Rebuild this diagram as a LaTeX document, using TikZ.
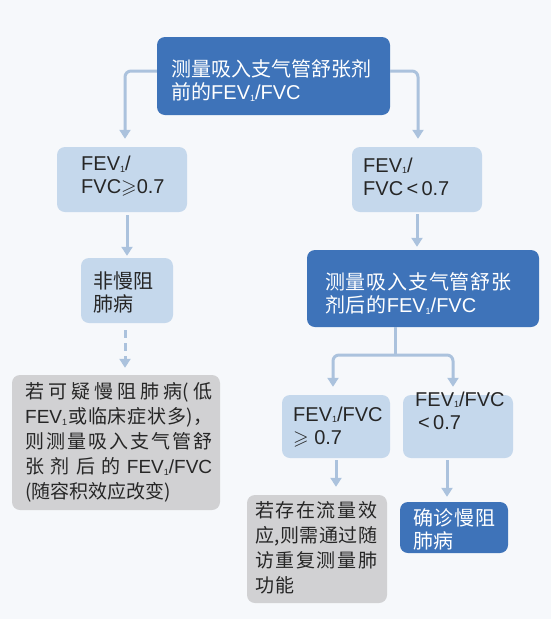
\documentclass[tikz,border=0pt]{standalone}
\usepackage{amssymb}
\usepackage{fontspec}
\setmainfont{Liberation Sans}
\newfontfamily\cjk{Noto Sans CJK SC}
\newfontfamily\cjkw[LetterSpace=4]{Noto Sans CJK SC}
\usetikzlibrary{arrows.meta}
\definecolor{bgc}{HTML}{F6F8FB}
\definecolor{darkb}{HTML}{3E73B9}
\definecolor{lightb}{HTML}{C5D8EC}
\definecolor{greyb}{HTML}{D1D1D3}
\definecolor{arrc}{HTML}{ABC2DD}
\definecolor{txt}{HTML}{262626}
\newcommand\one{\raisebox{-1.5pt}{\fontsize{9}{9}\selectfont 1}}
\newcommand\spreadline[2]{\makebox[#1][s]{#2}}
\tikzset{
  box/.style={rounded corners=8pt, inner sep=0pt, draw=none},
  darkbox/.style={box, fill=darkb},
  lightbox/.style={box, fill=lightb},
  greybox/.style={box, fill=greyb},
  tx/.style={inner sep=0pt, anchor=west, align=left, text=txt, font=\fontsize{20}{23}\selectfont},
  txw/.style={tx, text=white},
  gtx/.style={tx, font=\fontsize{19}{25}\selectfont},
  arr/.style={draw=arrc, line width=3pt, rounded corners=6pt, -{Triangle[width=11pt,length=9pt]}},
  plainline/.style={draw=arrc, line width=3pt},
}
\begin{document}
\begin{tikzpicture}[x=1pt,y=-1pt]
\fill[bgc] (0,0) rectangle (551,619);
\useasboundingbox (0,0) rectangle (551,619);
% boxes
\node[darkbox, minimum width=233pt, minimum height=78pt] (b1) at (273.5,76) {};
\node[lightbox, minimum width=130pt, minimum height=65pt] (b2) at (122,179.5) {};
\node[lightbox, minimum width=130pt, minimum height=65pt] (b3) at (417,179.5) {};
\node[lightbox, minimum width=92pt, minimum height=65pt] (b4) at (127,290.5) {};
\node[darkbox, minimum width=232pt, minimum height=77pt] (b5) at (423,288.5) {};
\node[greybox, minimum width=208pt, minimum height=135pt] (b6) at (116,442.5) {};
\node[lightbox, minimum width=108pt, minimum height=63pt] (b7) at (336,426.5) {};
\node[lightbox, minimum width=110pt, minimum height=63pt] (b8) at (458,426.5) {};
\node[greybox, minimum width=140pt, minimum height=108pt] (b9) at (317,549) {};
\node[darkbox, minimum width=108pt, minimum height=51pt] (b10) at (454,527.5) {};
% connectors
\draw[arr] ([yshift=5pt]b1.west) -| ([xshift=3pt,yshift=8pt]b2.north);
\draw[arr] ([yshift=5pt]b1.east) -| ([xshift=1pt,yshift=8pt]b3.north);
\draw[arr] ([yshift=-3pt]b4.north |- b2.south) -- ([yshift=2pt]b4.north);
\draw[arr] ([yshift=-2pt]b3.south) -- ([yshift=3pt]b3.south |- b5.north);
\draw[arr, dash pattern=on 8pt off 5pt] ([xshift=-2pt,yshift=-7pt]b4.south) -- ([xshift=-2pt,yshift=7pt]b4.south |- b6.north);
\coordinate (sp) at (395,355);
\draw[plainline] (sp |- b5.south) -- (sp);
\draw[arr] (sp) -| ([xshift=-3pt,yshift=8pt]b7.north);
\draw[arr] (sp) -| ([xshift=-5pt,yshift=8pt]b8.north);
\draw[arr] ([yshift=-2pt]b7.south) -- ([yshift=8pt]b7.south |- b9.north);
\draw[arr] ([xshift=-11pt,yshift=-2pt]b8.south) -- ([xshift=-11pt,yshift=5pt]b8.south |- b10.north);
% texts
\node[txw] (t1) at (171,80.5) {{\cjk 测量吸入支气管舒张剂}\\{\cjk 前的}FEV\one/FVC};
\node[tx] (t2) at (81,176.5) {FEV\one/\\FVC$\geqslant$0.7};
\node[tx] (t3) at (363,176.5) {FEV\one/\\FVC\,<\,0.7};
\node[tx] (t4) at (93,292.5) {{\cjk 非慢阻}\\{\cjk 肺病}};
\node[txw] (t5) at (325,293.5) {{\cjkw 测量吸入支气管舒张}\\{\cjkw 剂后的}FEV\one/FVC};
\node[gtx] (t6) at (25,442.5) {%
  \spreadline{187pt}{\cjk 若\hfil 可\hfil 疑\hfil 慢\hfil 阻\hfil 肺\hfil 病(\hfil 低}\\
  \spreadline{187pt}{FEV\one\hfil{\cjk 或\hfil 临\hfil 床\hfil 症\hfil 状\hfil 多)，}}\\
  \spreadline{187pt}{\cjk 则\hfil 测\hfil 量\hfil 吸\hfil 入\hfil 支\hfil 气\hfil 管\hfil 舒}\\
  \spreadline{187pt}{{\cjk 张\hfil 剂\hfil 后\hfil 的}\hfil FEV\one/FVC}\\
  {\cjk (随容积效应改变)}};
\node[tx] (t7) at (293,427) {FEV\one/FVC\\$\geqslant$ 0.7};
\node[tx] (t8) at (415,410.5) {FEV\one/FVC\\\hspace{3pt}<\,0.7};
\node[gtx] (t9) at (255,547.5) {%
  \spreadline{122pt}{\cjk 若\hfil 存\hfil 在\hfil 流\hfil 量\hfil 效}\\
  \spreadline{122pt}{\cjk 应,\hfil 则\hfil 需\hfil 通\hfil 过\hfil 随}\\
  \spreadline{122pt}{\cjk 访\hfil 重\hfil 复\hfil 测\hfil 量\hfil 肺}\\
  {\cjk 功\kern1pt 能}};
\node[txw] (t10) at (413,529) {{\cjkw 确诊慢阻}\\{\cjkw 肺病}};
\end{tikzpicture}
\end{document}
